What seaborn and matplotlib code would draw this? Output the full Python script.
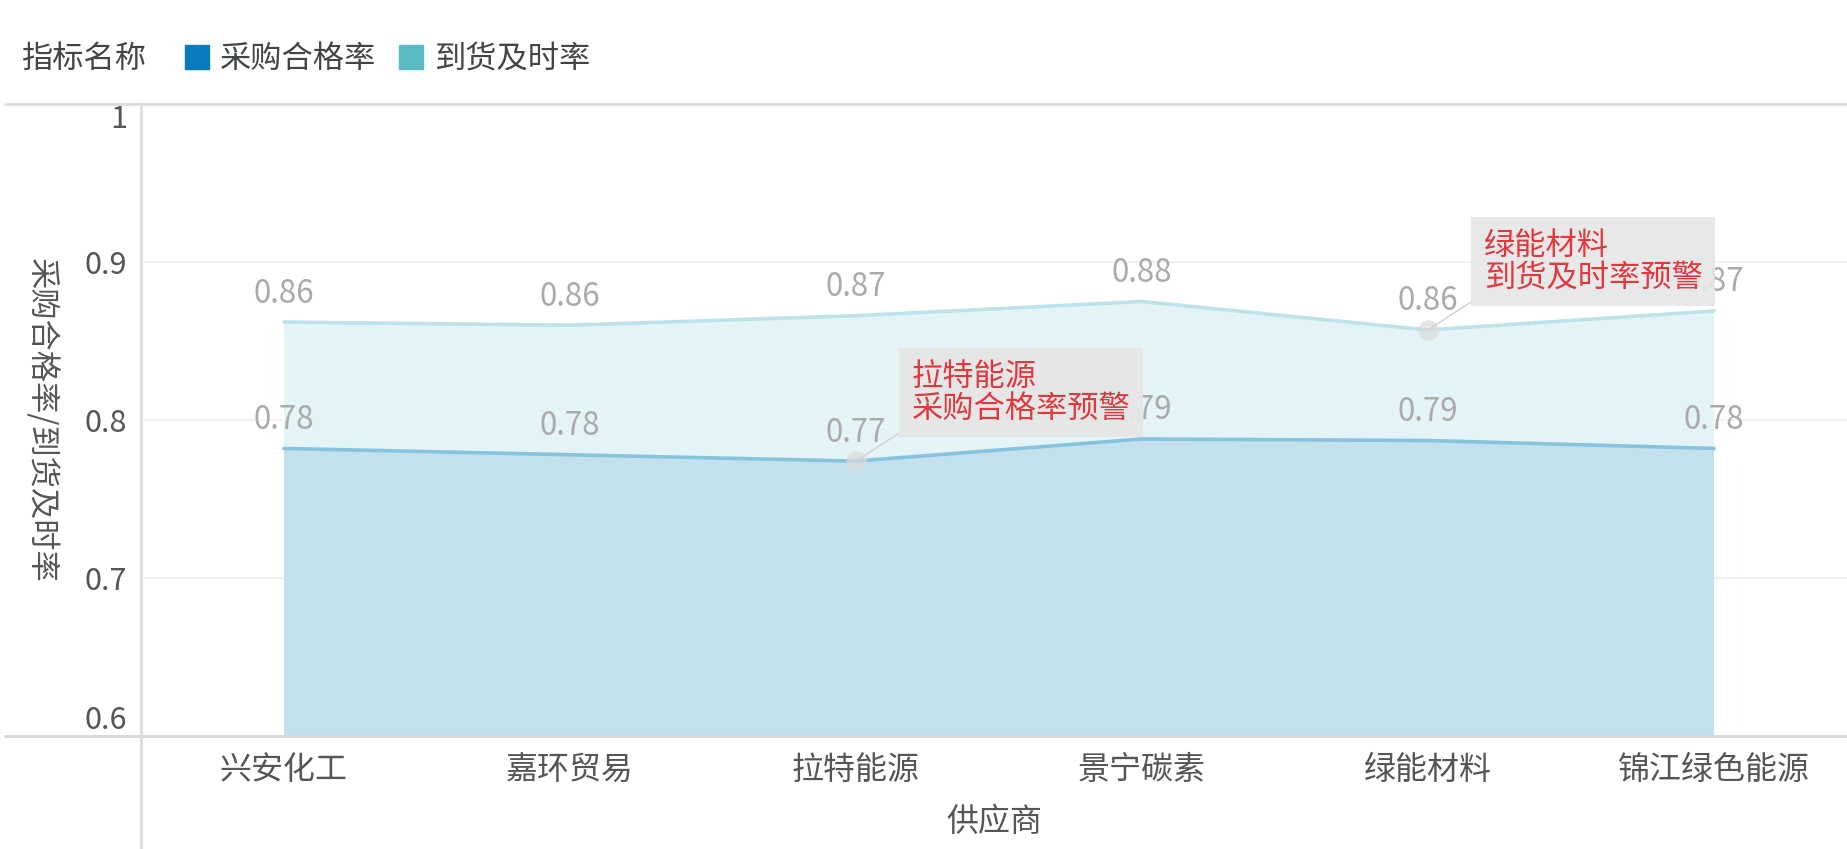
import pandas as pd
import numpy as np
import matplotlib.pyplot as plt
import seaborn as sns
from matplotlib.lines import Line2D

sns.set_theme(style='white')
plt.rcParams['font.family'] = ['Noto Sans CJK SC', 'DejaVu Sans']

# data
suppliers = ['兴安化工', '嘉环贸易', '拉特能源', '景宁碳素', '绿能材料', '锦江绿色能源']
pass_rate = [0.782, 0.778, 0.774, 0.788, 0.787, 0.782]      # 采购合格率
ontime_rate = [0.862, 0.860, 0.866, 0.875, 0.857, 0.869]    # 到货及时率
series_names = ['采购合格率', '到货及时率']
y_ticks = [0.6, 0.7, 0.8, 0.9, 1.0]
y_tick_labels = ['0.6', '0.7', '0.8', '0.9', '1']
warnings_list = [('拉特能源', '采购合格率', '拉特能源\n采购合格率预警'),
                 ('绿能材料', '到货及时率', '绿能材料\n到货及时率预警')]

legend_colors = ['#0a7abf', '#5bbac6']
line_colors = ['#86c3de', '#bde2e8']
fill_colors = ['#c3e1ec', '#e4f3f6']

df = pd.DataFrame({
    '供应商': suppliers * 2,
    'idx': list(range(len(suppliers))) * 2,
    '指标名称': [series_names[0]] * len(suppliers) + [series_names[1]] * len(suppliers),
    '值': pass_rate + ontime_rate,
})

fig = plt.figure(figsize=(18.47, 8.49), dpi=100)
ax = fig.add_axes([141 / 1847, 1 - 736 / 849, 1 - 141 / 1847, (736 - 104) / 849])

x = np.arange(len(suppliers))
# back area first (到货及时率), then front (采购合格率)
ax.fill_between(x, 0, ontime_rate, color=fill_colors[1], lw=0, zorder=1)
ax.fill_between(x, 0, pass_rate, color=fill_colors[0], lw=0, zorder=2)
sns.lineplot(data=df, x='idx', y='值', hue='指标名称', palette=line_colors,
             hue_order=series_names, linewidth=2.6, legend=False, ax=ax, zorder=3)

# data labels
for vals in (pass_rate, ontime_rate):
    for i, v in enumerate(vals):
        ax.annotate(f'{v:.2f}', (i, v), xytext=(0, 9), textcoords='offset points',
                    ha='center', va='bottom', fontsize=22.5, color='#aaaaaa', zorder=5)

# warning annotations
for sup, ser, txt in warnings_list:
    i = suppliers.index(sup)
    v = pass_rate[i] if ser == series_names[0] else ontime_rate[i]
    ax.scatter([i], [v], s=220, color='#dadada', alpha=0.7, zorder=6, lw=0)
    ax.annotate(txt, (i, v), xytext=(40, 26), textcoords='offset points',
                ha='left', va='bottom', fontsize=22.5, color='#e0383e', linespacing=1.0,
                bbox=dict(boxstyle='square,pad=0.4', fc='#e6e6e6', ec='none', alpha=0.92),
                arrowprops=dict(arrowstyle='-', color='#d0d0d0', lw=1,
                                shrinkA=0, shrinkB=0, relpos=(0, 0)),
                zorder=7)

ax.set_xlim(-0.5, 5.465)
ax.set_ylim(0.6, 1.0)
ax.set_xticks(x)
ax.set_xticklabels(suppliers, fontsize=23, color='#555555')
ax.set_yticks(y_ticks)
ax.set_yticklabels(y_tick_labels, fontsize=22, color='#555555')
for lab, t in zip(ax.get_yticklabels(), y_ticks):
    if t == 1.0:
        lab.set_va('top')
    elif t == 0.6:
        lab.set_va('bottom')
ax.tick_params(axis='x', length=0, pad=13)
ax.tick_params(axis='y', length=0, pad=10)
ax.set_xlabel('供应商', fontsize=23, color='#555555', labelpad=14)
ax.set_ylabel('采购合格率/到货及时率', fontsize=22.5, color='#555555', rotation=270,
              va='center')
ax.yaxis.set_label_coords(-(141 - 41) / 1706, 0.5)
for t in [0.7, 0.8, 0.9]:
    ax.axhline(t, color='#f0f0f0', lw=1.2, zorder=0)
for s in ax.spines.values():
    s.set_visible(False)

# frame lines like the dashboard
fig.add_artist(Line2D([5 / 1847, 1], [1 - 104 / 849] * 2, color='#dcdcdc', lw=2))
fig.add_artist(Line2D([5 / 1847, 1], [1 - 736 / 849] * 2, color='#d6d6d6', lw=2))
fig.add_artist(Line2D([141 / 1847] * 2, [0, 1 - 104 / 849], color='#dcdcdc', lw=2))

# legend
fig.text(21 / 1847, 1 - 59 / 849, '指标名称', fontsize=22.5, color='#444444', va='center')
handles = [Line2D([], [], marker='s', ls='none', markersize=17, color=c) for c in legend_colors]
fig.legend(handles, series_names, loc='center left', bbox_to_anchor=(184 / 1847, 1 - 59 / 849),
           ncol=2, frameon=False, fontsize=22.5, handlelength=0.8, handletextpad=0.35,
           columnspacing=0.7, labelcolor='#444444', borderaxespad=0, borderpad=0)

fig.savefig('out.png', dpi=100)
